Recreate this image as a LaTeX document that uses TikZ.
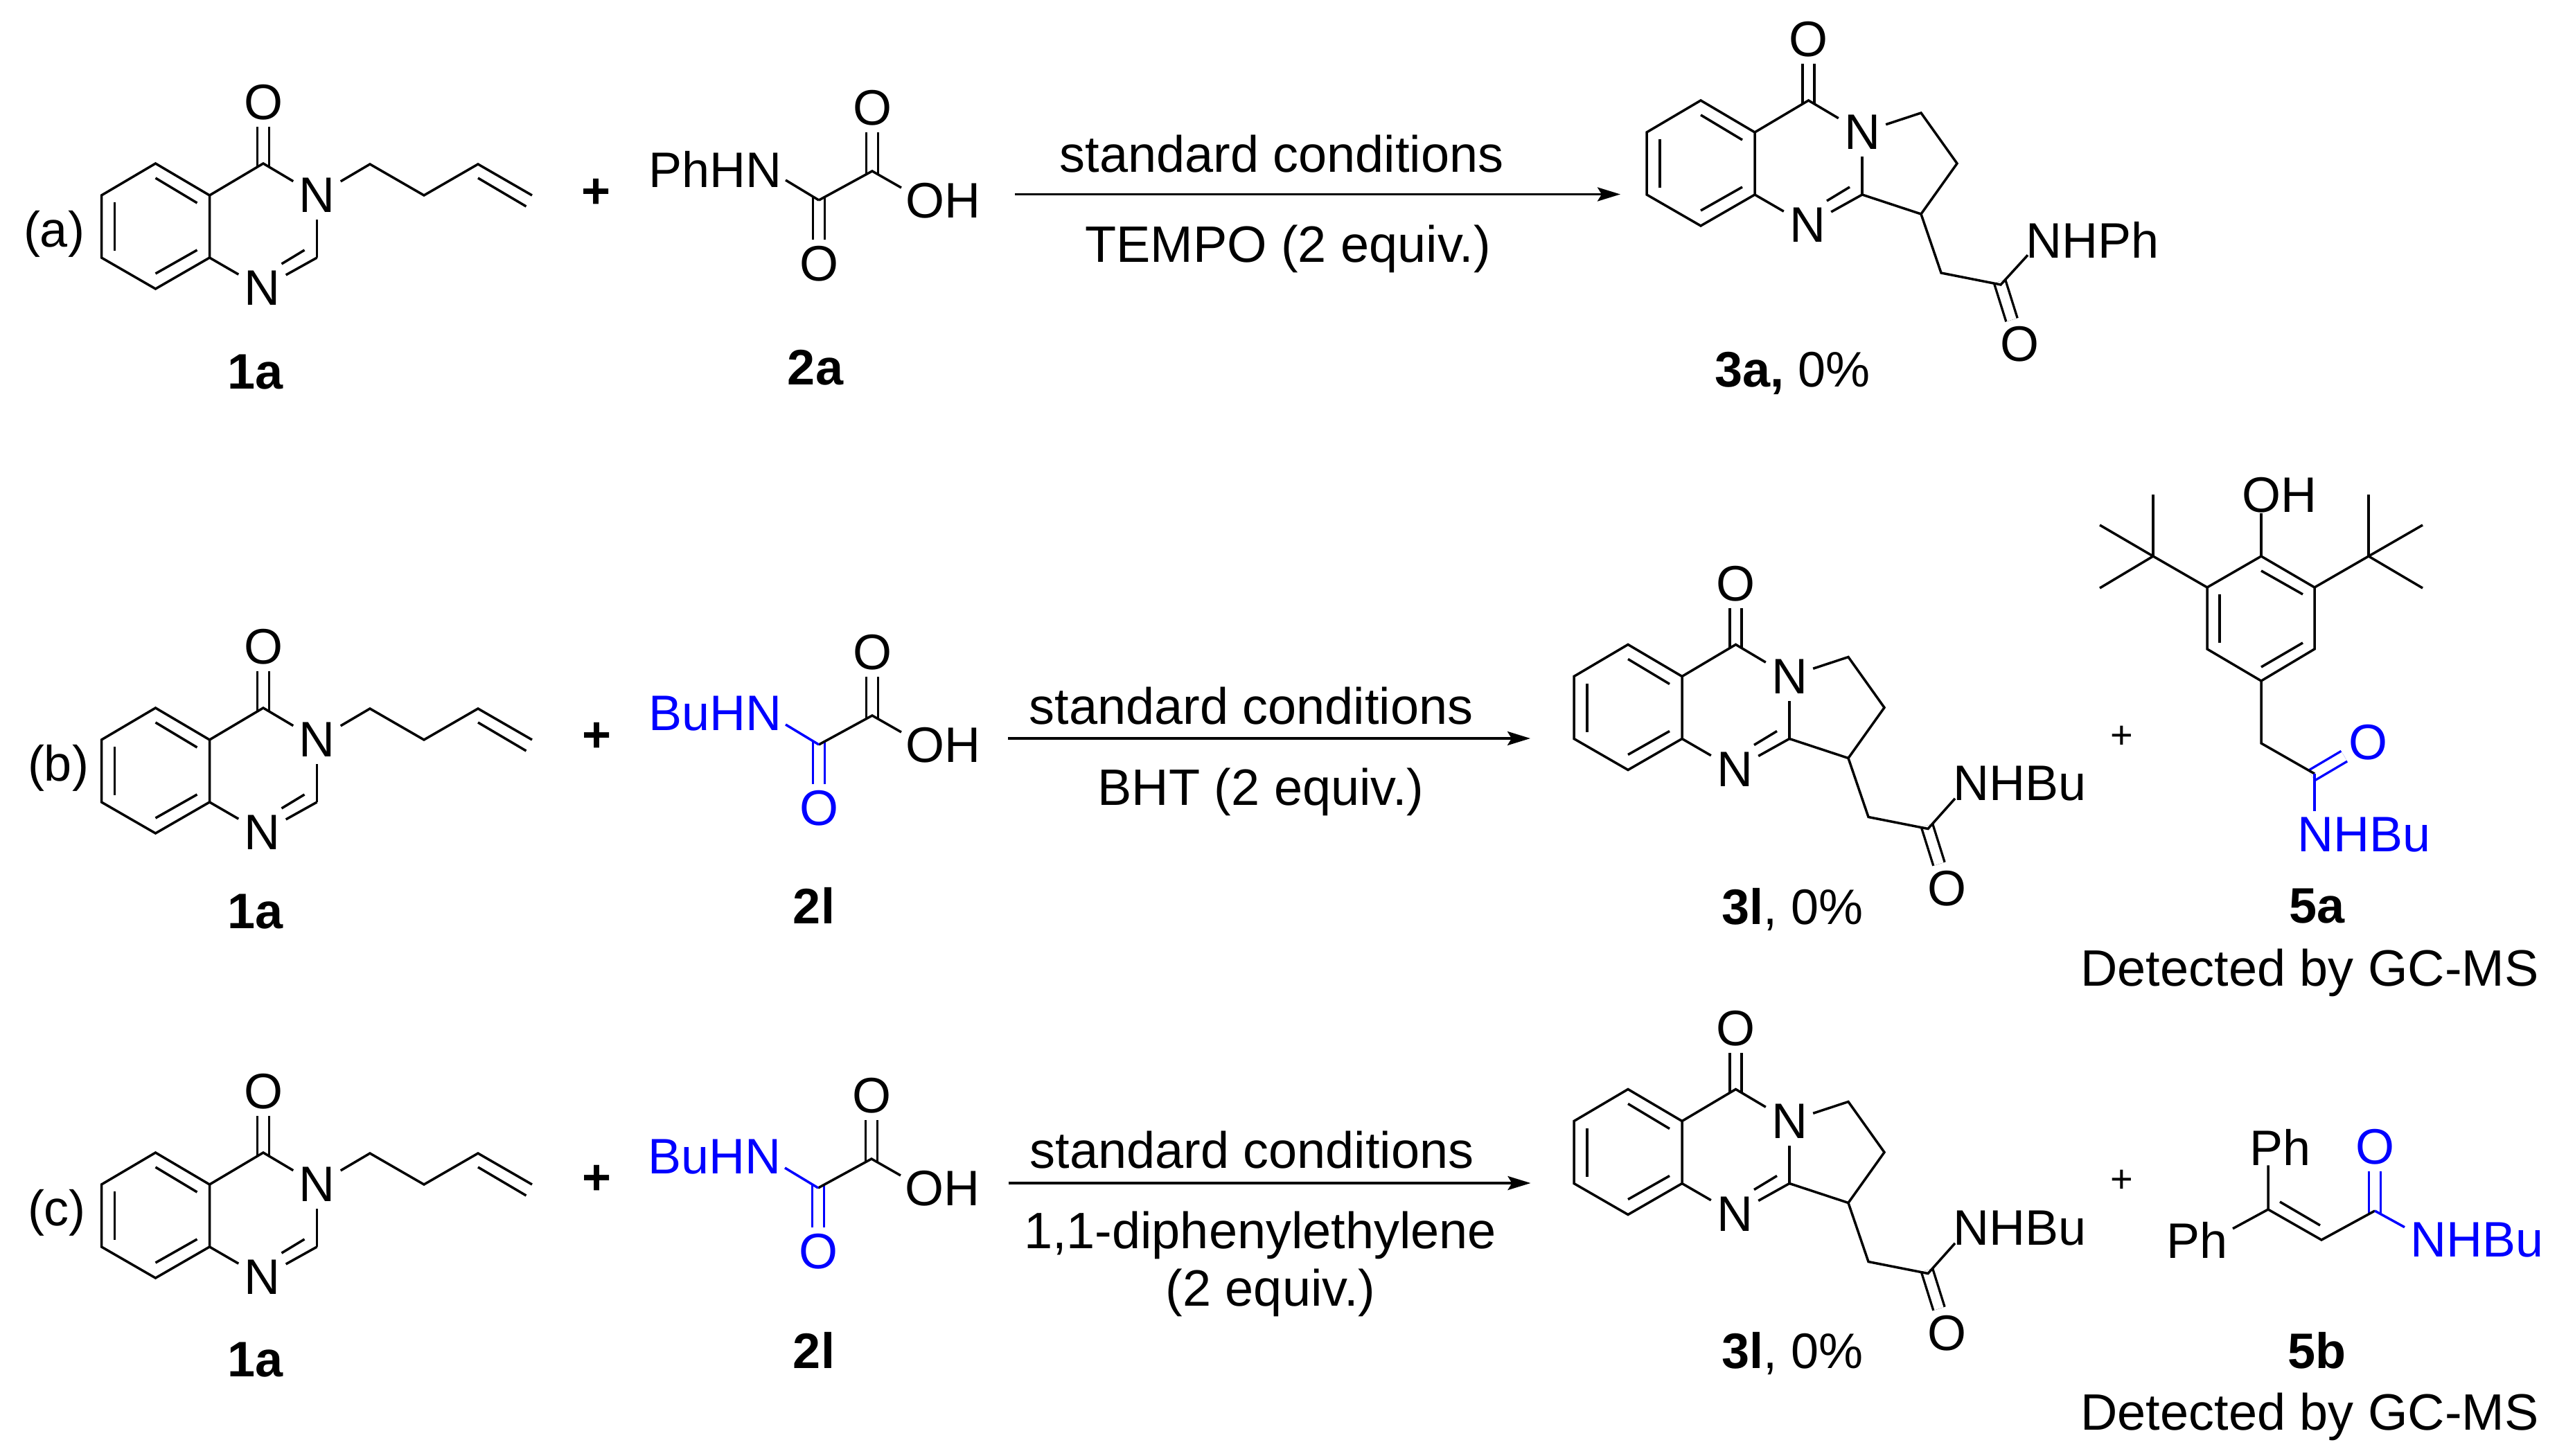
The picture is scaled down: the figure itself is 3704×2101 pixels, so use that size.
\documentclass[tikz,border=0pt]{standalone}
\usepackage{fontspec}
\setmainfont{Liberation Sans}
\usetikzlibrary{arrows.meta,calc}
\definecolor{pureblue}{rgb}{0,0,1}
\tikzset{
  bond/.style={line width=3.5pt},
  dblbond/.style={line width=3.4pt,double=white,double distance=13.6pt,shorten <=-5pt},
  atom/.style={inner sep=0pt,minimum width=68pt,minimum height=70pt,font=\fontsize{72}{80}\selectfont},
  grp/.style={inner sep=0pt,font=\fontsize{72}{80}\selectfont},
  lab/.style={inner sep=0pt,anchor=base,font=\fontsize{72}{80}\selectfont},
  cond/.style={inner sep=0pt,anchor=base,font=\fontsize{73.9}{80}\selectfont},
  bigplus/.style={inner sep=0pt,font=\fontsize{72}{80}\selectfont\bfseries},
  smallplus/.style={inner sep=0pt,font=\fontsize{56}{60}\selectfont},
  rxn/.style={line width=3.6pt,-{Stealth[length=33pt,width=20pt,inset=6pt]}}
}
% quinazoline core, drawn about the centre of the benzene ring
\newcommand{\quincore}{%
  \coordinate (r1) at (0,-91);
  \coordinate (r2) at (78,-45);
  \coordinate (r3) at (78,45);
  \coordinate (r4) at (0,90);
  \coordinate (r5) at (-78,45);
  \coordinate (r6) at (-78,-45);
  \coordinate (c4) at (155.5,-91);
  \coordinate (c2) at (233,45);
  \node[atom] (ok) at (155.5,-179) {O};
  \node[atom] (n3) at (233,-45) {N};
  \node[atom] (n1) at (154,89) {N};
  \draw[dblbond] (c4) -- (ok);
  \draw[bond] (r1) -- (r2) -- (r3) -- (r4) -- (r5) -- (r6) -- cycle;
  \draw[bond] (r2) -- (c4) -- (n3);
  \draw[bond] (r3) -- (n1);
  \draw[bond] (c2) -- (n3);
  \draw[bond] (c2) -- (n1);
  \draw[bond] (0,-70) -- (60,-34);
  \draw[bond] (-59,-35) -- (-59,35);
  \draw[bond] (60,34) -- (0,68);
  \draw[bond] (215,34) -- (182,54);
}
% N-butenyl quinazolinone 1a
\newcommand{\sma}[3]{%
  \begin{scope}[shift={(#2,#3)},name prefix=#1-]
    \quincore
    \coordinate (b1) at (309.5,-90);
    \coordinate (b2) at (387.5,-45);
    \coordinate (b3) at (465.5,-90);
    \coordinate (b4) at (543.5,-45);
    \draw[bond] (n3) -- (b1) -- (b2) -- (b3) -- (b4);
    \draw[bond] (465.5,-70) -- (535,-29);
  \end{scope}}
% oxamic acid
\newcommand{\acid}[6]{%
  \begin{scope}[shift={(#2,#3)},name prefix=#1-]
    \coordinate (c1) at (0,0);
    \coordinate (c2) at (77,-42);
    \node[atom] (ot) at (77,-133) {O};
    \node[atom,text=#5] (ob) at (0,92) {O};
    \node[grp,anchor=east,text=#5] (nh) at (-53,-45) {#4};
    \node[grp,anchor=west] (oh) at (125.5,#6) {OH};
    \draw[dblbond] (c2) -- (ot);
    \draw[dblbond,#5] (c1) -- (ob);
    \draw[bond] (c1) -- (c2) -- ($(oh.west)+(-6.5,-19)$);
    \draw[bond,#5] (c1) -- ($(nh.east)+(5,16)$);
  \end{scope}}
% pyrroloquinazolinone product
\newcommand{\product}[4]{%
  \begin{scope}[shift={(#2,#3)},name prefix=#1-]
    \quincore
    \coordinate (p1) at (318,-73);
    \coordinate (p2) at (370,0);
    \coordinate (p3) at (318,73);
    \coordinate (s1) at (347,158);
    \coordinate (s2) at (433,175);
    \node[atom] (oa) at (460,261) {O};
    \node[grp,anchor=west] (am) at (469,110) {#4};
    \draw[dblbond] (s2) -- (oa);
    \draw[bond] (n3) -- (p1) -- (p2) -- (p3) -- (c2);
    \draw[bond] (p3) -- (s1) -- (s2) -- ($(am.south west)+(3,-4)$);
  \end{scope}}
\begin{document}
\begin{tikzpicture}[x=1pt,y=-1pt]
\useasboundingbox (0,0) rectangle (3704,2101);

% ---------- row (a)
\node[grp] (taga) at (78,338) {(a)};
\sma{a1}{224.5}{327}
\node[lab] (l1a) at (369,561) {\bfseries 1a};
\node[bigplus] (plusa) at (861,279) {+};
\acid{a2}{1182}{289}{PhHN}{black}{1}
\node[lab] (l2a) at (1177,555) {\bfseries 2a};
\coordinate (arAs) at (1465,280.5);
\coordinate (arAe) at (2339,280.5);
\draw[rxn] (arAs) -- (arAe);
\node[cond] (ca1) at (1850,248) {standard conditions};
\node[cond] (ca2) at (1859,378) {TEMPO (2 equiv.)};
\product{a3}{2455}{236}{NHPh}
\node[lab,anchor=base west] (l3a) at (2475,558) {\textbf{3a,} 0\%};

% ---------- row (b)
\node[grp] (tagb) at (84,1109) {(b)};
\sma{b1}{224.5}{1113}
\node[lab] (l1b) at (369,1340) {\bfseries 1a};
\node[bigplus] (plusb) at (861.6,1064) {+};
\acid{b2}{1182}{1075}{BuHN}{pureblue}{1}
\node[lab] (l2b) at (1175,1333) {\bfseries 2l};
\coordinate (arBs) at (1455,1066);
\coordinate (arBe) at (2209,1066);
\draw[rxn] (arBs) -- (arBe);
\node[cond] (cb1) at (1806,1045) {standard conditions};
\node[cond] (cb2) at (1820,1162) {BHT (2 equiv.)};
\product{b3}{2350}{1021.5}{NHBu}
\node[lab,anchor=base west] (l3b) at (2485,1334) {\textbf{3l}, 0\%};
\node[smallplus] (plusb2) at (3063,1064.5) {+};

% 5a
\coordinate (h1) at (3264,803);
\coordinate (h2) at (3341,848);
\coordinate (h3) at (3341,937);
\coordinate (h4) at (3264,983);
\coordinate (h5) at (3186,937);
\coordinate (h6) at (3186,848);
\draw[bond] (h1) -- (h2) -- (h3) -- (h4) -- (h5) -- (h6) -- cycle;
\draw[bond] (3264,824) -- (3324,858);
\draw[bond] (3204,858) -- (3204,928);
\draw[bond] (3324,928) -- (3264,963);
\node[grp,anchor=west] (bhtoh) at (3236,715) {OH};
\draw[bond] (h1) -- (h1 |- bhtoh.south);
\coordinate (tl) at (3108,803);
\coordinate (tl1) at (3108,714);
\coordinate (tl2) at (3031,758);
\coordinate (tl3) at (3031,849);
\draw[bond] (h6) -- (tl);
\draw[bond] (tl) -- (tl1);
\draw[bond] (tl) -- (tl2);
\draw[bond] (tl) -- (tl3);
\coordinate (tr) at (3419,803);
\coordinate (tr1) at (3419,714);
\coordinate (tr2) at (3497,758);
\coordinate (tr3) at (3497,849);
\draw[bond] (h2) -- (tr);
\draw[bond] (tr) -- (tr1);
\draw[bond] (tr) -- (tr2);
\draw[bond] (tr) -- (tr3);
\coordinate (ach) at (3264,1073);
\coordinate (aco) at (3341,1117);
\node[atom,text=pureblue] (aco2) at (3418,1071.5) {O};
\node[grp,anchor=west,text=pureblue] (anh) at (3316,1205) {NHBu};
\draw[dblbond,pureblue] (aco) -- (aco2);
\draw[bond] (h4) -- (ach) -- (aco);
\draw[bond,pureblue] (aco) -- ($(aco |- anh.north)+(0,-9)$);
\node[lab] (l5a) at (3344,1332) {\bfseries 5a};
\node[cond] (gca) at (3334,1423) {Detected by GC-MS};

% ---------- row (c)
\node[grp] (tagc) at (82,1751) {(c)};
\sma{c1}{224.5}{1755}
\node[lab] (l1c) at (369,1987) {\bfseries 1a};
\node[bigplus] (plusc) at (862,1703) {+};
\acid{c2}{1181}{1715}{BuHN}{pureblue}{1}
\node[lab] (l2c) at (1175,1975) {\bfseries 2l};
\coordinate (arCs) at (1455.5,1708);
\coordinate (arCe) at (2209.5,1708);
\draw[rxn] (arCs) -- (arCe);
\node[cond] (cc1) at (1807,1686) {standard conditions};
\node[cond] (cc2) at (1819,1802) {1,1-diphenylethylene};
\node[cond] (cc3) at (1834,1885) {(2 equiv.)};
\product{c3}{2350}{1663.5}{NHBu}
\node[lab,anchor=base west] (l3c) at (2485,1975) {\textbf{3l}, 0\%};
\node[smallplus] (plusc2) at (3063,1705.6) {+};

% 5b
\coordinate (d1) at (3274,1746);
\coordinate (d2) at (3351,1790);
\coordinate (d3) at (3428,1748);
\node[grp,anchor=west] (ph1) at (3247,1656) {Ph};
\node[grp,anchor=east] (ph2) at (3216,1790) {Ph};
\node[atom,text=pureblue] (do) at (3428,1656) {O};
\node[grp,anchor=west,text=pureblue] (dn) at (3479,1790) {NHBu};
\draw[dblbond,pureblue] (d3) -- (do);
\draw[bond] (d1 |- ph1.south) -- (d1) -- (d2) -- (d3);
\draw[bond] (d1) -- ($(ph2.north east)+(7,10)$);
\draw[bond] (3291,1735) -- (3349,1769);
\draw[bond,pureblue] (d3) -- ($(dn.north west)+(-8,7)$);
\node[lab] (l5b) at (3344,1975) {\bfseries 5b};
\node[cond] (gcb) at (3334,2064) {Detected by GC-MS};
\end{tikzpicture}
\end{document}
